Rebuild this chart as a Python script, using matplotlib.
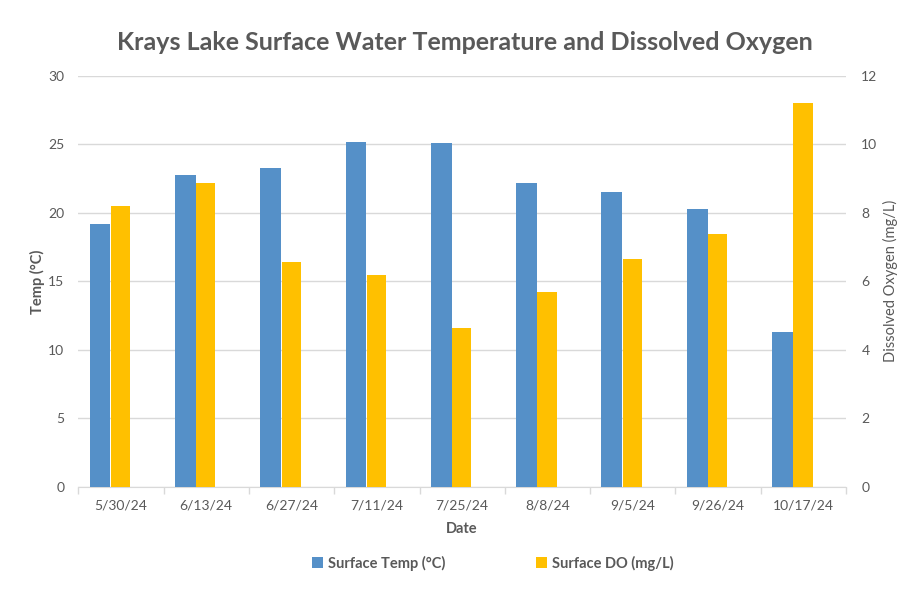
import matplotlib.pyplot as plt
import numpy as np

# Data
dates = ["5/30/24", "6/13/24", "6/27/24", "7/11/24", "7/25/24",
         "8/8/24", "9/5/24", "9/26/24", "10/17/24"]
temp_c = [19.2, 22.8, 23.3, 25.2, 25.1, 22.2, 21.5, 20.3, 11.3]
do_mgl = [8.2, 8.87, 6.56, 6.19, 4.64, 5.69, 6.64, 7.38, 11.2]

BLUE = "#5590C8"
YELLOW = "#FFC000"
GRAY = "#595959"
GRID = "#D9D9D9"

plt.rcParams['font.family'] = ['Lato', 'DejaVu Sans']

fig = plt.figure(figsize=(9.07, 5.89), dpi=100)
ax = fig.add_axes([0.0863, 0.1737, 0.8465, 0.6973])
ax2 = ax.twinx()

x = np.arange(len(dates))
w = 0.245
ax.bar(x - w, temp_c, width=w, color=BLUE, align='center', label="Surface Temp (°C)", zorder=3)
ax2.bar(x - 0.005, do_mgl, width=w * 0.92, color=YELLOW, align='center', label="Surface DO (mg/L)", zorder=3)

ax.set_xlim(-0.5, len(dates) - 0.5)
ax.set_ylim(0, 30)
ax.set_yticks(range(0, 31, 5))
ax2.set_ylim(0, 12)
ax2.set_yticks(range(0, 13, 2))

ax.grid(axis='y', color=GRID, linewidth=1, zorder=0)
ax.set_axisbelow(True)
for a in (ax, ax2):
    for s in ('top', 'left', 'right'):
        a.spines[s].set_visible(False)
    a.spines['bottom'].set_color(GRID)
    a.tick_params(axis='y', length=0, colors=GRAY, labelsize=10)
ax2.spines['bottom'].set_visible(False)

ax.set_xticks(x)
ax.set_xticklabels(dates)
ax.tick_params(axis='x', length=0, colors=GRAY, labelsize=10, pad=9)
ax.set_xticks(np.arange(-0.5, len(dates)), minor=True)
ax.tick_params(axis='x', which='minor', length=5, color=GRID, width=1)

ax.tick_params(axis='y', pad=10)
ax2.tick_params(axis='y', pad=11)

ax.set_xlabel("Date", color=GRAY, fontsize=10.5, fontweight='bold', labelpad=8)
ax.set_ylabel("Temp (°C)", color=GRAY, fontsize=10.5, fontweight='bold', labelpad=2)
ax2.set_ylabel("Dissolved Oxygen (mg/L)", color=GRAY, fontsize=10.5, labelpad=4)

fig.text(0.512, 0.928, "Krays Lake Surface Water Temperature and Dissolved Oxygen",
         ha='center', va='center', color=GRAY, fontsize=18, fontweight='bold')

h1, l1 = ax.get_legend_handles_labels()
h2, l2 = ax2.get_legend_handles_labels()
fig.legend(h1 + h2, l1 + l2, loc='center', bbox_to_anchor=(0.543, 0.044), ncol=2,
           frameon=False, handlelength=0.8, handleheight=0.8,
           handletextpad=0.3, columnspacing=6.2, labelcolor=GRAY,
           prop={'weight': 'bold', 'size': 10.5})

fig.savefig("out.png", dpi=100)
plt.close(fig)
